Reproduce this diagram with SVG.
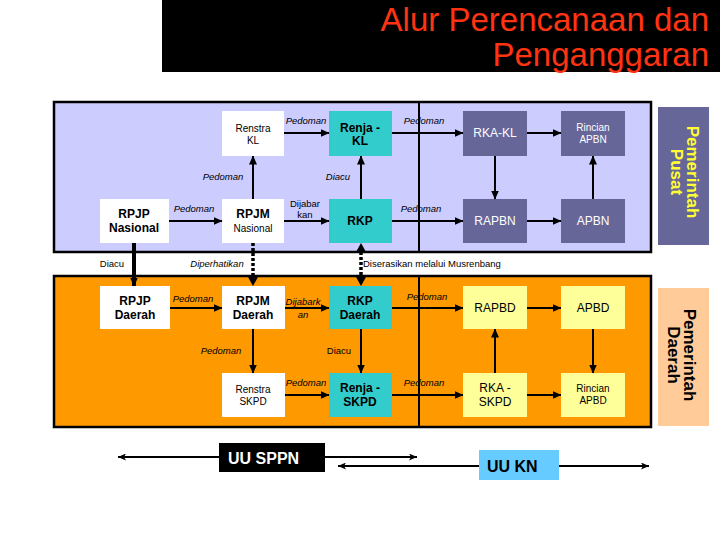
<svg xmlns="http://www.w3.org/2000/svg" width="720" height="540" viewBox="0 0 720 540">
<defs>
<marker id="ah" markerWidth="9" markerHeight="8" refX="8.5" refY="4" orient="auto" markerUnits="userSpaceOnUse"><path d="M0,0 L9,4 L0,8 z" fill="#000"/></marker>
<marker id="ahs" markerWidth="8" markerHeight="7" refX="8" refY="3.5" orient="auto-start-reverse" markerUnits="userSpaceOnUse"><path d="M0,0 L8,3.5 L0,7 L2,3.5 z" fill="#000"/></marker>
<style>
text{font-family:"Liberation Sans",Arial,sans-serif;}
.b{font-weight:bold;font-size:12px;text-anchor:middle;fill:#000;}
.r{font-size:12px;text-anchor:middle;fill:#000;}
.s{font-size:10px;text-anchor:middle;fill:#000;}
.w{fill:#fff;}
.lbl{font-size:9.5px;font-style:italic;text-anchor:middle;fill:#000;}
.lr{font-size:9.5px;text-anchor:middle;fill:#000;}
.c{stroke:#000;stroke-width:2;fill:none;marker-end:url(#ah);}
.thick{stroke:#000;stroke-width:4;fill:none;marker-end:url(#ah);}
.dot{stroke:#000;stroke-width:3.5;stroke-dasharray:3,2;fill:none;}
.uu{stroke:#000;stroke-width:2;fill:none;}
.wbox{fill:#fff;}
.teal{fill:#33cccc;}
.pur{fill:#666699;}
.yel{fill:#ffff99;}
</style>
</defs>
<rect width="720" height="540" fill="#fff"/>
<g id="title">
<rect x="162" y="0" width="558" height="72" fill="#000"/>
<text x="709" y="31" font-size="33" fill="#ff3311" text-anchor="end">Alur Perencanaan dan</text>
<text x="709" y="66" font-size="33" fill="#ff3311" text-anchor="end">Penganggaran</text>
</g>
<g id="panels">
<rect x="54" y="102" width="597" height="150" fill="#ccccff" stroke="#000" stroke-width="2.5"/>
<rect x="54" y="276" width="597" height="151" fill="#ff9900" stroke="#000" stroke-width="2.5"/>
<line x1="419" y1="102" x2="419" y2="252" stroke="#000" stroke-width="2"/>
<line x1="419" y1="276" x2="419" y2="427" stroke="#000" stroke-width="2"/>
</g>
<g id="pemerintah-pusat">
<rect x="658" y="107" width="51" height="138" fill="#666699"/>
<text transform="translate(687,172) rotate(90)" font-size="17" font-weight="bold" fill="#ffff33" text-anchor="middle">Pemerintah</text>
<text transform="translate(671,172) rotate(90)" font-size="17" font-weight="bold" fill="#ffff33" text-anchor="middle">Pusat</text>
</g>
<g id="pemerintah-daerah">
<rect x="658" y="288" width="51" height="138" fill="#ffcc99"/>
<text transform="translate(684,355) rotate(90)" font-size="17" font-weight="bold" fill="#000" text-anchor="middle">Pemerintah</text>
<text transform="translate(668,355) rotate(90)" font-size="17" font-weight="bold" fill="#000" text-anchor="middle">Daerah</text>
</g>
<g id="renstra-kl"><rect class="wbox" x="222" y="111" width="62" height="45"/><text class="s" x="253" y="132">Renstra</text><text class="s" x="253" y="144">KL</text></g>
<g id="renja-kl"><rect class="teal" x="329" y="111" width="63" height="45"/><text class="b" x="360" y="132">Renja -</text><text class="b" x="360" y="145">KL</text></g>
<g id="rka-kl"><rect class="pur" x="463" y="111" width="64" height="45"/><text class="r w" x="495" y="137">RKA-KL</text></g>
<g id="rincian-apbn"><rect class="pur" x="561" y="111" width="64" height="45"/><text class="s w" x="593" y="131">Rincian</text><text class="s w" x="593" y="143">APBN</text></g>
<g id="rpjp-nasional"><rect class="wbox" x="100" y="199" width="69" height="44"/><text class="b" x="134" y="218">RPJP</text><text class="b" x="134" y="232">Nasional</text></g>
<g id="rpjm-nasional"><rect class="wbox" x="222" y="199" width="62" height="44"/><text class="b" x="253" y="218">RPJM</text><text class="s" x="253" y="232">Nasional</text></g>
<g id="rkp"><rect class="teal" x="329" y="199" width="63" height="44"/><text class="b" x="360" y="225">RKP</text></g>
<g id="rapbn"><rect class="pur" x="463" y="199" width="64" height="44"/><text class="r w" x="495" y="225">RAPBN</text></g>
<g id="apbn"><rect class="pur" x="561" y="199" width="64" height="44"/><text class="r w" x="593" y="225">APBN</text></g>
<g id="rpjp-daerah"><rect class="wbox" x="100" y="286" width="70" height="43"/><text class="b" x="135" y="305">RPJP</text><text class="b" x="135" y="319">Daerah</text></g>
<g id="rpjm-daerah"><rect class="wbox" x="222" y="286" width="63" height="43"/><text class="b" x="253" y="305">RPJM</text><text class="b" x="253" y="319">Daerah</text></g>
<g id="rkp-daerah"><rect class="teal" x="329" y="286" width="63" height="43"/><text class="b" x="360" y="305">RKP</text><text class="b" x="360" y="319">Daerah</text></g>
<g id="rapbd"><rect class="yel" x="463" y="286" width="64" height="43"/><text class="r" x="495" y="312">RAPBD</text></g>
<g id="apbd"><rect class="yel" x="561" y="286" width="64" height="43"/><text class="r" x="593" y="312">APBD</text></g>
<g id="renstra-skpd"><rect class="wbox" x="222" y="373" width="63" height="44"/><text class="s" x="253" y="393">Renstra</text><text class="s" x="253" y="405">SKPD</text></g>
<g id="renja-skpd"><rect class="teal" x="329" y="373" width="63" height="44"/><text class="b" x="360" y="392">Renja -</text><text class="b" x="360" y="406">SKPD</text></g>
<g id="rka-skpd"><rect class="yel" x="463" y="373" width="64" height="44"/><text class="r" x="495" y="392">RKA -</text><text class="r" x="495" y="406">SKPD</text></g>
<g id="rincian-apbd"><rect class="yel" x="561" y="373" width="64" height="44"/><text class="s" x="593" y="392">Rincian</text><text class="s" x="593" y="404">APBD</text></g>
<g id="uu-sppn"><rect x="219" y="443" width="106" height="29" fill="#000"/><text x="228" y="464" font-size="16" font-weight="bold" fill="#fff">UU SPPN</text></g>
<g id="uu-kn"><rect x="479" y="450" width="80" height="30" fill="#66ccff"/><text x="487" y="472" font-size="16" font-weight="bold" fill="#000">UU KN</text></g>
<g id="connectors">
<line class="c" x1="284" y1="133" x2="329" y2="133"/>
<line class="c" x1="392" y1="133" x2="463" y2="133"/>
<line class="c" x1="527" y1="133" x2="561" y2="133"/>
<line class="c" x1="495" y1="156" x2="495" y2="199"/>
<line class="c" x1="593" y1="199" x2="593" y2="156"/>
<line class="c" x1="169" y1="221" x2="222" y2="221"/>
<line class="c" x1="253" y1="199" x2="253" y2="156"/>
<line class="c" x1="284" y1="221" x2="329" y2="221"/>
<line class="c" x1="361" y1="199" x2="361" y2="156"/>
<line class="c" x1="392" y1="221" x2="463" y2="221"/>
<line class="c" x1="527" y1="221" x2="561" y2="221"/>
<line class="thick" x1="134" y1="243" x2="134" y2="286"/>
<line class="dot" x1="253" y1="243" x2="253" y2="278"/>
<path d="M248,277 L253,286 L258,277 z" fill="#000"/>
<line class="dot" x1="361" y1="252" x2="361" y2="278"/>
<path d="M356,252 L361,243 L366,252 z" fill="#000"/>
<path d="M356,277 L361,286 L366,277 z" fill="#000"/>
<line class="c" x1="170" y1="308" x2="222" y2="308"/>
<line class="c" x1="285" y1="308" x2="329" y2="308"/>
<line class="c" x1="392" y1="308" x2="463" y2="308"/>
<line class="c" x1="527" y1="308" x2="561" y2="308"/>
<line class="c" x1="253" y1="329" x2="253" y2="373"/>
<line class="c" x1="361" y1="329" x2="361" y2="373"/>
<line class="c" x1="495" y1="373" x2="495" y2="329"/>
<line class="c" x1="593" y1="329" x2="593" y2="373"/>
<line class="c" x1="285" y1="395" x2="329" y2="395"/>
<line class="c" x1="392" y1="395" x2="463" y2="395"/>
<line class="c" x1="527" y1="395" x2="561" y2="395"/>
<line class="uu" x1="219" y1="457" x2="118" y2="457" marker-end="url(#ahs)"/>
<line class="uu" x1="325" y1="457" x2="417" y2="457" marker-end="url(#ahs)"/>
<line class="uu" x1="479" y1="466" x2="338" y2="466" marker-end="url(#ahs)"/>
<line class="uu" x1="559" y1="466" x2="649" y2="466" marker-end="url(#ahs)"/>
<text class="lbl" x="306" y="124">Pedoman</text>
<text class="lbl" x="424" y="124">Pedoman</text>
<text class="lbl" x="223" y="180">Pedoman</text>
<text class="lbl" x="338" y="180">Diacu</text>
<text class="lbl" x="194" y="212">Pedoman</text>
<text class="lr" x="305" y="207">Dijabar</text>
<text class="lr" x="305" y="218">kan</text>
<text class="lbl" x="421" y="212">Pedoman</text>
<text class="lr" x="112" y="267">Diacu</text>
<text class="lbl" x="217" y="267">Diperhatikan</text>
<text class="lr" x="363" y="267" text-anchor="start" style="text-anchor:start">Diserasikan melalui Musrenbang</text>
<text class="lbl" x="193" y="302">Pedoman</text>
<text class="lbl" x="303" y="305">Dijabark</text>
<text class="lbl" x="303" y="318">an</text>
<text class="lbl" x="427" y="300">Pedoman</text>
<text class="lbl" x="221" y="354">Pedoman</text>
<text class="lr" x="339" y="354">Diacu</text>
<text class="lbl" x="306" y="386">Pedoman</text>
<text class="lbl" x="424" y="386">Pedoman</text>
</g>
</svg>
